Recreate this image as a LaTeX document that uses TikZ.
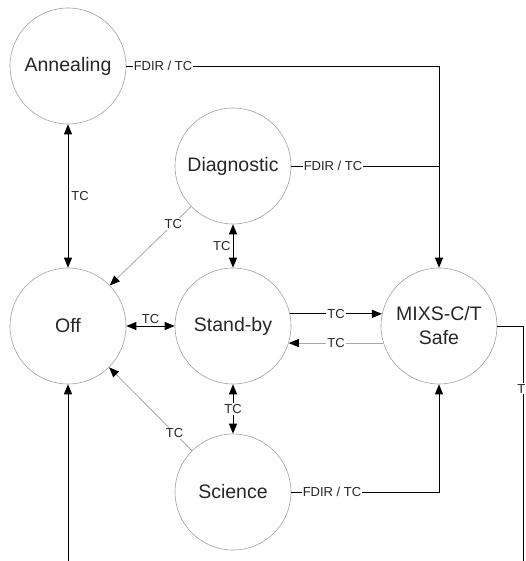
\documentclass[tikz,border=0pt]{standalone}
\usepackage{fontspec}
\setmainfont{Liberation Sans}
\usetikzlibrary{arrows.meta}
\definecolor{circgray}{HTML}{A0A0A0}
\definecolor{linegray}{HTML}{A8A8A8}
\begin{document}
\begin{tikzpicture}[x=1pt,y=-1pt,
  state/.style={circle,draw=circgray,line width=0.6pt,minimum size=116pt,inner sep=0pt,
    font=\fontsize{19.5}{24}\selectfont,align=center,text=black!85},
  conn/.style={line width=0.9pt,draw=black},
  faint/.style={line width=0.8pt,draw=linegray},
  tip/.style={-{Triangle[length=10pt,width=8pt,color=black]}},
  both/.style={{Triangle[length=10pt,width=8pt,color=black]}-{Triangle[length=10pt,width=8pt,color=black]}},
  lbl/.style={font=\fontsize{13}{15}\selectfont,fill=white,inner sep=1pt,text=black!85}
]
\useasboundingbox (0,0) rectangle (526,561);

\node[state] (ann)  at (68,66)   {Annealing};
\node[state] (diag) at (233,166) {Diagnostic};
\node[state] (off)  at (68,326)  {Off};
\node[state] (sb)   at (233,326) {Stand-by};
\node[state] (safe) at (439,326) {MIXS-C/T\\Safe};
\node[state] (sci)  at (233,492) {Science};

\coordinate (offin) at (68,562);
\coordinate (safeout) at (523,562);

\draw[conn,both] (ann) -- node[lbl,fill=none,anchor=west,inner sep=3pt] {TC} (off);
\draw[faint,tip] (diag) -- node[lbl,pos=0.22] {TC} (off);
\draw[conn,both] (diag) -- node[lbl,fill=none,anchor=east,inner sep=2pt] {TC} (sb);
\draw[conn,both] (off) -- node[lbl,fill=none,anchor=south,inner sep=2pt] {TC} (sb);
\draw[conn,tip] (sb.12) -- node[lbl] {TC} (safe.168);
\draw[faint,tip] (safe.197) -- node[lbl] {TC} (sb.-17);
\draw[conn,both] (sb) -- node[lbl] {TC} (sci);
\draw[faint,tip] (sci) -- node[lbl,pos=0.21] {TC} (off);

\draw[conn,tip] (ann.east) -| node[lbl,at start,anchor=west,xshift=6pt] {FDIR / TC} (safe.north);
\draw[conn] (diag.east) -- node[lbl,at start,anchor=west,xshift=11pt] {FDIR / TC} (diag.east -| safe.north);
\draw[conn,tip] (sci.east) -| node[lbl,at start,anchor=west,xshift=10pt] {FDIR / TC} (safe.south);

\draw[conn,tip] (offin) -- (off);
\draw[conn] (safe.east) -| node[lbl,pos=0.633,xshift=3pt] {TC} (safeout);
\end{tikzpicture}
\end{document}
